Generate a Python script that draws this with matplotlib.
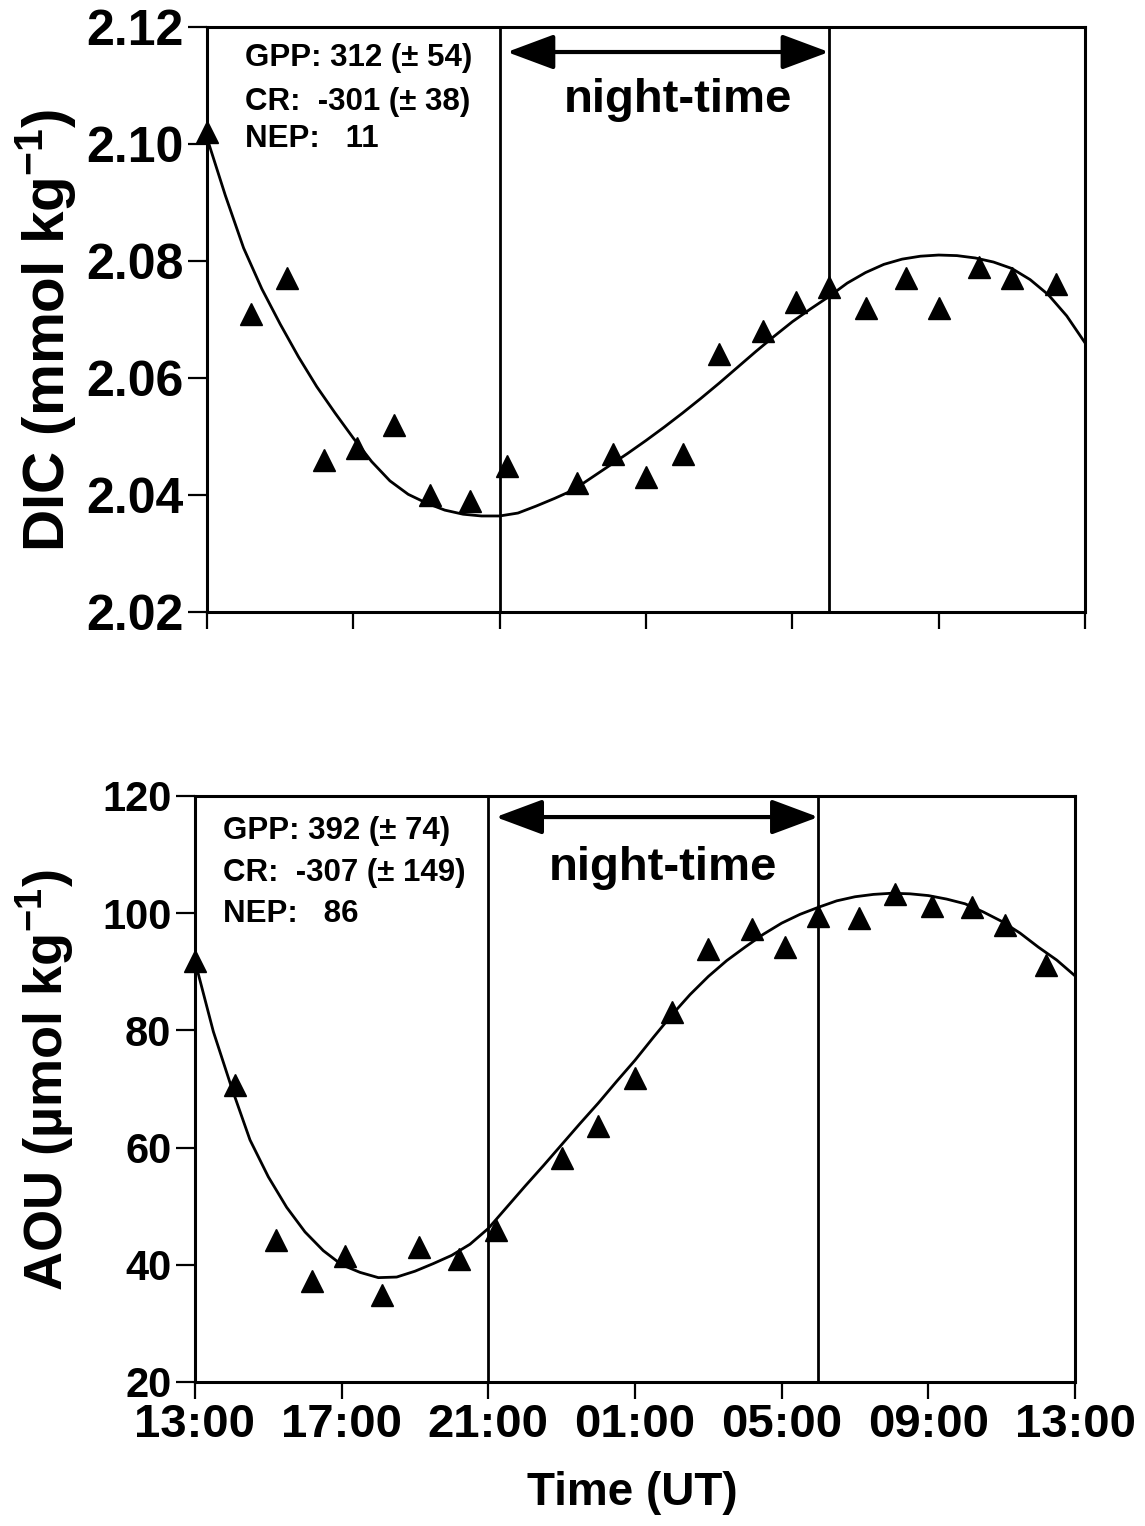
import numpy as np
import matplotlib.pyplot as plt

plt.rcParams['font.family'] = ['Liberation Sans', 'DejaVu Sans']
plt.rcParams['font.weight'] = 'bold'
plt.rcParams['mathtext.fontset'] = 'custom'
plt.rcParams['mathtext.rm'] = 'Liberation Sans:bold'
plt.rcParams['mathtext.bf'] = 'Liberation Sans:bold'
plt.rcParams['mathtext.default'] = 'rm'

# time axis: hours after 13:00 UT
tick_hours = [0, 4, 8, 12, 16, 20, 24]
tick_labels = ['13:00', '17:00', '21:00', '01:00', '05:00', '09:00', '13:00']
night_start = 8.0   # 21:00
night_end = 17.0    # 06:00

# DIC observations (mmol/kg)
dic_t = [0.0, 1.2, 2.2, 3.2, 4.1, 5.1, 6.1, 7.2, 8.2, 10.1, 11.1, 12.0,
         13.0, 14.0, 15.2, 16.1, 17.0, 18.0, 19.1, 20.0, 21.1, 22.0, 23.2]
dic = [2.102, 2.071, 2.077, 2.046, 2.048, 2.052, 2.040, 2.039, 2.045, 2.042, 2.047, 2.043,
       2.047, 2.064, 2.068, 2.073, 2.0755, 2.072, 2.077, 2.072, 2.079, 2.077, 2.076]

# DIC fitted curve (every half hour)
dic_fit_t = [0.0, 0.5, 1.0, 1.5, 2.0, 2.5, 3.0, 3.5, 4.0, 4.5, 5.0, 5.5, 6.0, 6.5, 7.0,
             7.5, 8.0, 8.5, 9.0, 9.5, 10.0, 10.5, 11.0, 11.5, 12.0, 12.5, 13.0, 13.5,
             14.0, 14.5, 15.0, 15.5, 16.0, 16.5, 17.0, 17.5, 18.0, 18.5, 19.0, 19.5,
             20.0, 20.5, 21.0, 21.5, 22.0, 22.5, 23.0, 23.5, 24.0]
dic_fit = [2.1010, 2.0912, 2.0822, 2.0752, 2.0692, 2.0636, 2.0585, 2.0540, 2.0497, 2.0457,
           2.0424, 2.0401, 2.0386, 2.0374, 2.0367, 2.0364, 2.0364, 2.0369, 2.0381, 2.0394,
           2.0408, 2.0429, 2.0450, 2.0471, 2.0493, 2.0516, 2.0540, 2.0565, 2.0591, 2.0618,
           2.0645, 2.0671, 2.0696, 2.0718, 2.0739, 2.0762, 2.0780, 2.0794, 2.0803, 2.0808,
           2.0810, 2.0809, 2.0805, 2.0798, 2.0787, 2.0768, 2.0742, 2.0706, 2.0660]

# AOU observations (umol/kg)
aou_t = [0.0, 1.1, 2.2, 3.2, 4.1, 5.1, 6.1, 7.2, 8.2, 10.0, 11.0, 12.0,
         13.0, 14.0, 15.2, 16.1, 17.0, 18.1, 19.1, 20.1, 21.2, 22.1, 23.2]
aou = [91.9, 70.7, 44.2, 37.3, 41.5, 34.9, 43.1, 40.9, 45.9, 58.3, 63.7, 71.9,
       83.1, 93.8, 97.3, 94.3, 99.6, 99.1, 103.3, 101.3, 101.0, 98.0, 91.1]

# AOU fitted curve (every half hour)
aou_fit_t = [0.0, 0.5, 1.0, 1.5, 2.0, 2.5, 3.0, 3.5, 4.0, 4.5, 5.0, 5.5, 6.0, 6.5, 7.0,
             7.5, 8.0, 8.5, 9.0, 9.5, 10.0, 10.5, 11.0, 11.5, 12.0, 12.5, 13.0, 13.5,
             14.0, 14.5, 15.0, 15.5, 16.0, 16.5, 17.0, 17.5, 18.0, 18.5, 19.0, 19.5,
             20.0, 20.5, 21.0, 21.5, 22.0, 22.5, 23.0, 23.5, 24.0]
aou_fit = [91.8, 79.8, 70.2, 61.3, 55.0, 49.8, 45.6, 42.4, 40.0, 38.7, 37.8, 37.9, 38.9,
           40.2, 41.6, 43.5, 46.2, 49.8, 53.4, 56.9, 60.5, 64.1, 67.6, 71.3, 74.9, 78.8,
           82.6, 86.1, 89.2, 91.9, 94.2, 96.4, 98.3, 99.8, 101.0, 102.1, 102.8, 103.2,
           103.4, 103.3, 103.0, 102.4, 101.6, 100.2, 98.6, 96.6, 94.2, 92.0, 89.3]

dic_stats = ['GPP: 312 (\u00b1 54)', 'CR:  -301 (\u00b1 38)', 'NEP:   11']
aou_stats = ['GPP: 392 (\u00b1 74)', 'CR:  -307 (\u00b1 149)', 'NEP:   86']

fig = plt.figure(figsize=(11.45, 15.26), dpi=100)
ax1 = fig.add_axes([0.1808, 0.5990, 0.7668, 0.3834])
ax2 = fig.add_axes([0.1703, 0.0944, 0.7686, 0.3840])


def style_axes(ax, ytick_size):
    for sp in ax.spines.values():
        sp.set_linewidth(2.2)
    ax.set_xlim(0, 24)
    ax.set_xticks(tick_hours)
    ax.tick_params(axis='x', direction='out', length=12, width=1.6)
    ax.tick_params(axis='y', direction='out', length=14, width=1.6,
                   labelsize=ytick_size, pad=3)
    for t in [night_start, night_end]:
        ax.axvline(t, color='black', lw=2.0)


def draw_panel(ax, t, y, fit_t, fit, stats, stats_x, stats_y, arrow_y, night_xy):
    ax.plot(fit_t, fit, color='black', lw=2.0, zorder=3)
    ax.plot(t, y, linestyle='none', marker='^', markersize=16.5, color='black',
            clip_on=False, zorder=4)
    for s, yy in zip(stats, stats_y):
        ax.text(stats_x, yy, s, transform=ax.transAxes, fontsize=22.5, fontweight='bold',
                ha='left', va='center')
    ax.annotate('', xy=(night_end, arrow_y), xytext=(8.2, arrow_y),
                xycoords=('data', 'axes fraction'), textcoords=('data', 'axes fraction'),
                arrowprops=dict(arrowstyle='<|-|>,head_length=1.45,head_width=0.54',
                                mutation_scale=20, lw=3, color='black',
                                shrinkA=0, shrinkB=0))
    ax.text(night_xy[0], night_xy[1], 'night-time', transform=ax.transAxes,
            fontsize=34, fontweight='bold', ha='center', va='center')


style_axes(ax1, 36)
ax1.set_ylim(2.02, 2.12)
ax1.set_yticks([2.02, 2.04, 2.06, 2.08, 2.10, 2.12])
ax1.set_yticklabels(['2.02', '2.04', '2.06', '2.08', '2.10', '2.12'])
ax1.tick_params(axis='x', labelbottom=False)
draw_panel(ax1, dic_t, dic, dic_fit_t, dic_fit, dic_stats, 0.043,
           [0.947, 0.872, 0.808], 0.957, (0.536, 0.875))
ax1.set_ylabel('DIC (mmol kg$^{-1}$)', fontsize=42, fontweight='bold', va='center')
ax1.yaxis.set_label_coords(-0.1845, 0.482)

style_axes(ax2, 30)
ax2.set_ylim(20, 120)
ax2.set_yticks([20, 40, 60, 80, 100, 120])
ax2.set_xticklabels(tick_labels, fontsize=34)
ax2.tick_params(axis='x', pad=3)
draw_panel(ax2, aou_t, aou, aou_fit_t, aou_fit, aou_stats, 0.032,
           [0.940, 0.868, 0.798], 0.964, (0.532, 0.877))
ax2.set_ylabel('AOU (\u00b5mol kg$^{-1}$)', fontsize=39, fontweight='bold', va='center')
ax2.yaxis.set_label_coords(-0.170, 0.515)
ax2.set_xlabel('Time (UT)', fontsize=33, fontweight='bold', va='center')
ax2.xaxis.set_label_coords(0.4966, -0.189)

fig.savefig('out.png', dpi=100)
